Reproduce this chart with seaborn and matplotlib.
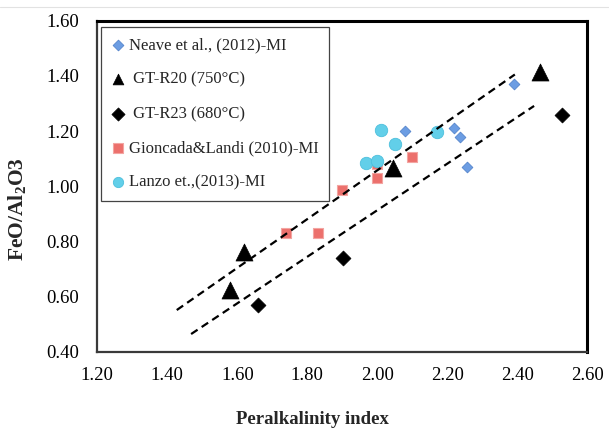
import matplotlib
matplotlib.use("Agg")
import matplotlib.pyplot as plt
from matplotlib.lines import Line2D
import seaborn as sns
import numpy as np

# ---- data ----
neave_x = [2.39, 2.08, 2.22, 2.235, 2.255]
neave_y = [1.37, 1.20, 1.21, 1.18, 1.07]

r20_x = [2.465, 2.045, 1.62, 1.58]
r20_y = [1.415, 1.065, 0.76, 0.625]

r23_x = [2.527, 1.903, 1.658]
r23_y = [1.258, 0.738, 0.569]

gion_x = [1.74, 1.83, 1.90, 2.00, 2.00, 2.10]
gion_y = [0.83, 0.83, 0.985, 1.03, 1.08, 1.105]

lanzo_x = [2.01, 2.05, 1.968, 2.00, 2.17]
lanzo_y = [1.204, 1.153, 1.083, 1.092, 1.195]

trend_upper_x = [1.427, 2.393]
trend_upper_y = [0.551, 1.405]
trend_lower_x = [1.468, 2.448]
trend_lower_y = [0.464, 1.291]

xticks = [1.20, 1.40, 1.60, 1.80, 2.00, 2.20, 2.40, 2.60]
yticks = [0.40, 0.60, 0.80, 1.00, 1.20, 1.40, 1.60]

labels = ["Neave et al., (2012)-MI", " GT-R20 (750°C)", " GT-R23 (680°C)",
          "Gioncada&Landi (2010)-MI", "Lanzo et.,(2013)-MI"]

# ---- style ----
sns.set_theme(style="white")
plt.rcParams["font.family"] = ["Liberation Serif", "DejaVu Serif"]
plt.rcParams["mathtext.fontset"] = "custom"
plt.rcParams["mathtext.rm"] = "Liberation Serif:bold"
plt.rcParams["mathtext.bf"] = "Liberation Serif:bold"

fig = plt.figure(figsize=(6.09, 4.30), dpi=100)
ax = fig.add_axes([97.3/609, 1-351.7/430, 490/609, 331/430])

sns.scatterplot(x=neave_x, y=neave_y, marker="D", s=30, color="#6c9de3",
                edgecolor="#5585cc", linewidth=0.6, ax=ax, label=labels[0], zorder=3)
sns.scatterplot(x=r20_x, y=r20_y, marker="^", s=150, color="black",
                edgecolor="black", linewidth=0.5, ax=ax, label=labels[1], zorder=3)
sns.scatterplot(x=r23_x, y=r23_y, marker="D", s=58, color="black",
                edgecolor="black", linewidth=0.5, ax=ax, label=labels[2], zorder=3)
sns.scatterplot(x=gion_x, y=gion_y, marker="s", s=62, color="#ec706c",
                edgecolor="#f3a5a2", linewidth=0.8, ax=ax, label=labels[3], zorder=3)
sns.scatterplot(x=lanzo_x, y=lanzo_y, marker="o", s=80, color="#62cfe9",
                edgecolor="#4dbfdc", linewidth=0.6, ax=ax, label=labels[4], zorder=3)

for tx, ty in [(trend_upper_x, trend_upper_y), (trend_lower_x, trend_lower_y)]:
    sns.lineplot(x=tx, y=ty, color="black", linewidth=1.6, estimator=None,
                 linestyle=(0, (3.5, 2.2)), legend=False, ax=ax, zorder=4)

ax.set_xlim(1.2, 2.6)
ax.set_ylim(0.4, 1.6)
ax.set_xticks(xticks)
ax.set_yticks(yticks)
ax.set_xticklabels([f"{v:.2f}" for v in xticks], fontsize=13.5)
ax.set_yticklabels([f"{v:.2f}" for v in yticks], fontsize=13.5)
ax.tick_params(axis="both", direction="out", length=5, width=0.8,
               colors="#888888", labelcolor="black")
ax.tick_params(axis="x", pad=6)
ax.tick_params(axis="y", pad=8)
for side in ["top", "right"]:
    ax.spines[side].set_color("black")
    ax.spines[side].set_linewidth(2.2)
for side in ["left", "bottom"]:
    ax.spines[side].set_color("#3a3a3a")
    ax.spines[side].set_linewidth(1.6)
ax.grid(False)

ax.set_xlabel("Peralkalinity index", fontsize=13.5, fontweight="bold")
ax.xaxis.set_label_coords((312-97.3)/490, -(420-351.7)/331, transform=ax.transAxes)
ax.xaxis.label.set_va("center")
ax.set_ylabel(r"FeO/Al$_{\mathbf{2}}$O3", fontsize=15.5, fontweight="bold")
ax.yaxis.set_label_coords(-(97.3-18)/490, (351.7-209)/331, transform=ax.transAxes)
ax.yaxis.label.set_va("center")

leg = ax.legend(loc="upper left", bbox_to_anchor=(0.007, 0.981), borderaxespad=0,
                fontsize=12, frameon=True, fancybox=False, edgecolor="#444444",
                framealpha=1, borderpad=0.62, handlelength=0.8, handletextpad=0.25,
                labelspacing=1.1)
leg.get_frame().set_linewidth(0.9)
for h, sz in zip(leg.legend_handles, [30, 60, 45, 45, 55]):
    h.set_sizes([sz])

# faint rule along the top edge of the picture
fig.add_artist(Line2D([0.0, 1.0], [1 - 7/430, 1 - 7/430], transform=fig.transFigure,
                      color="#e2e2e2", linewidth=0.8))

fig.savefig("out.png", dpi=100, facecolor="white")
